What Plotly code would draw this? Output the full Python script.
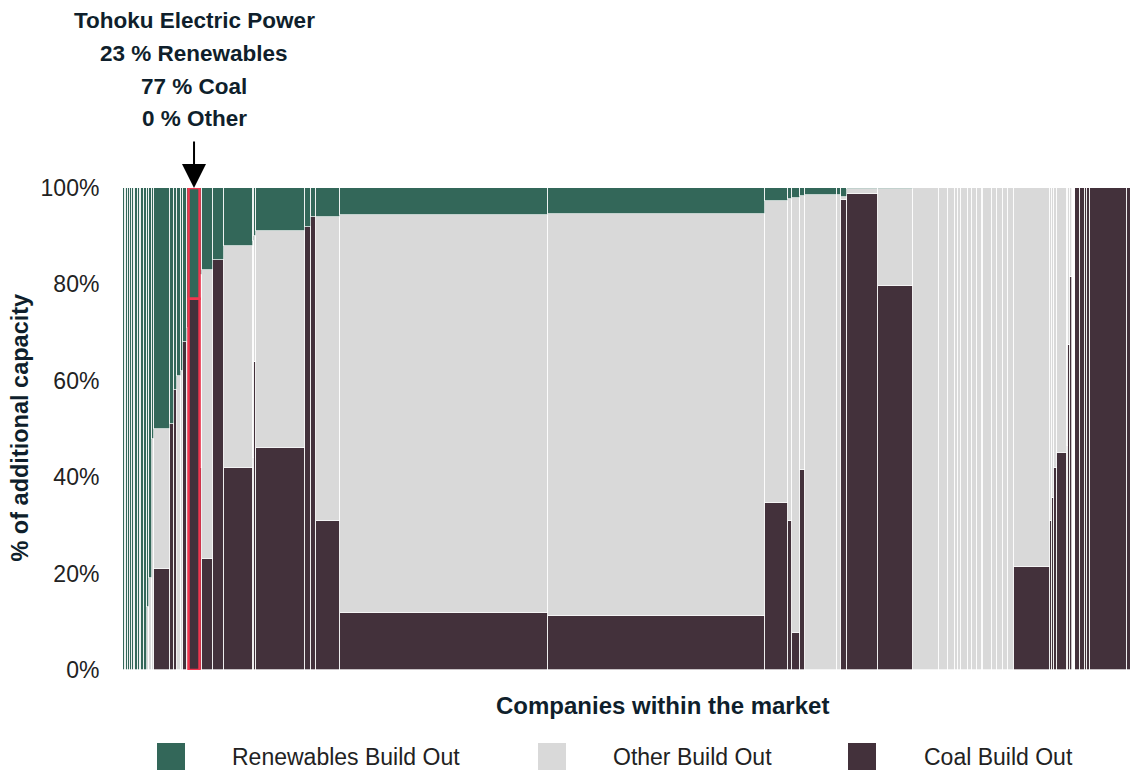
import plotly.graph_objects as go

# ---- data (widths = additional capacity of each company, shares in %) ----
widths = [1.5, 1.5, 2, 1.5, 2, 2.2, 1.4, 2.5, 2.0, 1.6, 2.5, 2.8,
          2, 3, 2, 16, 4, 3, 4, 2, 4, 2,
          11,
          2, 11, 11, 29, 1.5, 2, 48.5, 6, 5, 24, 208, 217.5,
          22.5, 4, 8, 5, 32, 4, 6, 31, 35,
          26, 9, 7, 3, 3, 7, 4, 5, 5, 1.5, 8.5, 5, 6, 5, 6,
          36, 2, 2, 3, 10, 1.5, 1.5, 2, 3,
          5, 5, 2, 3, 37, 11]

renewables = [100, 100, 100, 100, 100, 100, 100, 100, 100, 100, 100, 100,
              87, 81, 52, 50, 49, 42, 39, 38, 32, 29,
              23,
              18, 17, 15, 12, 11, 10, 9, 8, 6, 6, 5.6, 5.4,
              2.7, 2.3, 2, 1.7, 1.5, 1.4, 1.8, 0.3, 0.2,
              0, 0, 0, 0, 0, 0, 0, 0, 0, 0, 0, 0, 0, 0, 0,
              0, 0, 0, 0, 0, 0, 0, 0, 0,
              0, 0, 0, 0, 0, 0]

coal = [0, 0, 0, 0, 0, 0, 0, 0, 0, 0, 0, 0,
        0, 0, 0, 21, 51, 58, 0, 0, 68, 0,
        77,
        42, 23, 85, 42, 44, 64, 46, 92, 94, 31, 11.8, 11.3,
        34.6, 31, 7.7, 41.5, 0, 0, 97.5, 98.8, 79.7,
        0, 0, 0, 0, 0, 0, 0, 0, 0, 0, 0, 0, 0, 0, 0,
        21.3, 31, 35.7, 42, 45, 46.5, 67.5, 81.5, 0,
        100, 100, 100, 100, 100, 100]

other = [0, 0, 0, 0, 0, 0, 0, 0, 0, 0, 0, 0,
         13, 19, 48, 29, 0, 0, 61, 62, 0, 71,
         0,
         40, 60, 0, 46, 45, 26, 45, 0, 0, 63, 82.6, 83.3,
         62.7, 66.7, 90.3, 56.8, 98.5, 98.6, 0.7, 0.9, 20.1,
         100, 100, 100, 100, 100, 100, 100, 100, 100, 100, 100, 100, 100, 100, 100,
         78.7, 69, 64.3, 58, 55, 53.5, 32.5, 18.5, 0,
         0, 0, 0, 0, 0, 0]

highlight_index = 22
highlight_name = "Tohoku Electric Power"

series_names = ["Renewables Build Out", "Other Build Out", "Coal Build Out"]
colors = {"Renewables Build Out": "#336759",
          "Other Build Out": "#d9d9d9",
          "Coal Build Out": "#43313b"}
tick_values = [0, 20, 40, 60, 80, 100]

# ---- positions ----
lefts = []
acc = 0.0
for w in widths:
    lefts.append(acc)
    acc += w
total = acc
centers = [l + w / 2 for l, w in zip(lefts, widths)]

FONT = "Liberation Sans, Arial, sans-serif"
DARK = "#0f1f2c"
RED = "#f2364f"

# The page body has an 8px margin, so the figure is sized 8px smaller and
# all pixel positions below are given in reference coordinates minus 8.
OFF = 8
PL, PR_, PT, PB = 123, 1138, 188, 670   # plot area in reference pixels
PW, PH = PR_ - PL, PB - PT


def px(x):
    return (x - PL) / PW


def py(y):
    return (PB - y) / PH


fig = go.Figure()
for name, vals in [("Coal Build Out", coal), ("Other Build Out", other),
                   ("Renewables Build Out", renewables)]:
    fig.add_trace(go.Bar(
        x=centers, y=vals, width=widths, name=name,
        marker=dict(color=colors[name], line=dict(color="#ffffff", width=0.7)),
        showlegend=False, hoverinfo="skip"))

fig.update_layout(
    barmode="stack", bargap=0,
    width=1138 - OFF, height=770 - OFF,
    margin=dict(l=PL - OFF, r=0, t=PT - OFF, b=(770 - OFF) - (PB - OFF)),
    paper_bgcolor="white", plot_bgcolor="white",
    font=dict(family=FONT, color="#222222"),
    xaxis=dict(range=[0, total], showticklabels=False, showgrid=False,
               zeroline=False, showline=False, ticks=""),
    yaxis=dict(range=[0, 100], tickmode="array", tickvals=tick_values,
               ticktext=[f"{v}%" for v in tick_values],
               showgrid=False, zeroline=False, showline=False,
               ticks="outside", ticklen=18, tickcolor="rgba(0,0,0,0)",
               tickfont=dict(size=23, color="#222222", family=FONT)),
)

# highlight outline of the selected company (segment by segment)
i = highlight_index
x0, x1 = lefts[i], lefts[i] + widths[i]
bounds = [0, coal[i], coal[i] + other[i], coal[i] + other[i] + renewables[i]]
for lo, hi in zip(bounds[:-1], bounds[1:]):
    if hi > lo:
        fig.add_shape(type="rect", xref="x", yref="y", x0=x0, x1=x1, y0=lo, y1=hi,
                      line=dict(color=RED, width=2.5), fillcolor="rgba(0,0,0,0)")

# highlighted company annotation
hx = centers[i]
lines = [highlight_name,
         f"{renewables[i]:g} % Renewables",
         f"{coal[i]:g} % Coal",
         f"{other[i]:g} % Other"]
line_y = [21, 53, 86, 118]
for txt, ypx in zip(lines, line_y):
    fig.add_annotation(x=hx, xref="x", y=py(ypx), yref="paper",
                       text=f"<b>{txt}</b>", showarrow=False,
                       xanchor="center", yanchor="middle",
                       font=dict(size=22.5, color=DARK, family=FONT))
fig.add_annotation(x=hx, y=100, xref="x", yref="y", text="", showarrow=True,
                   ax=0, ay=-48, arrowhead=2, arrowsize=2.4, arrowwidth=2,
                   arrowcolor="#000000", standoff=0)

# axis titles
fig.add_annotation(x=px(662), y=py(705), xref="paper", yref="paper",
                   text="<b>Companies within the market</b>", showarrow=False,
                   xanchor="center", yanchor="middle",
                   font=dict(size=24, color=DARK, family=FONT))
fig.add_annotation(x=px(20), y=0.503, xref="paper", yref="paper",
                   text="<b>% of additional capacity</b>", showarrow=False, textangle=-90,
                   xanchor="center", yanchor="middle",
                   font=dict(size=23.5, color=DARK, family=FONT))

# legend (manual, bottom)
legend_pos = [(157, 230), (538, 611), (848, 922)]
for name, (sx, tx) in zip(series_names, legend_pos):
    fig.add_shape(type="rect", xref="paper", yref="paper",
                  x0=px(sx), x1=px(sx + 28), y0=py(743), y1=py(772),
                  fillcolor=colors[name], line=dict(width=0))
    fig.add_annotation(x=px(tx), y=py(757), xref="paper", yref="paper",
                       text=name, showarrow=False, xanchor="left", yanchor="middle",
                       font=dict(size=23, color="#222222", family=FONT))

fig.write_html("out.html")
